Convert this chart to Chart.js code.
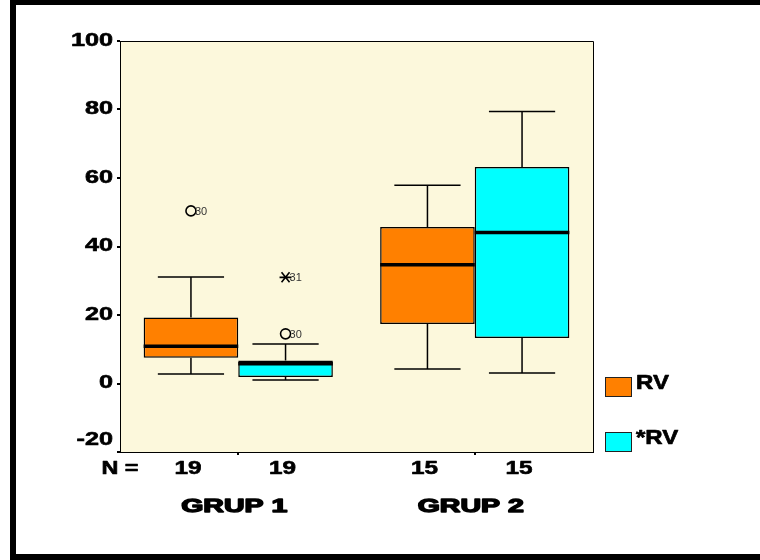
<!DOCTYPE html>
<html lang="en">
<head>
    <meta charset="UTF-8">
    <title>RV boxplot</title>
    <style>
        body { margin: 0; background: #fff; }
        canvas { display: block; }
    </style>
</head>
<body>
    <canvas id="myChart" width="760" height="560"></canvas>

    <script src="https://cdn.jsdelivr.net/npm/chart.js"></script>

    <script>
        // categories and series names
        const groups = ['GRUP 1', 'GRUP 2'];
        const seriesNames = ['RV', '*RV'];

        // case counts under each box
        const rvN = [19, 15];
        const rvStarN = [19, 15];

        // RV box statistics (per group)
        const rvMin = [2.8, 4.2];
        const rvQ1 = [7.5, 17.4];
        const rvMedian = [10.9, 34.7];
        const rvQ3 = [19.3, 45.7];
        const rvMax = [31.1, 57.9];
        const rvOutliers = [[50.4], []];
        const rvOutlierLabels = [['30'], []];
        const rvExtremes = [[], []];
        const rvExtremeLabels = [[], []];

        // *RV box statistics (per group)
        const rvStarMin = [1.0, 3.1];
        const rvStarQ1 = [1.9, 13.3];
        const rvStarMedian = [5.8, 44.1];
        const rvStarQ3 = [6.7, 63.2];
        const rvStarMax = [11.5, 79.4];
        const rvStarOutliers = [[14.5], []];
        const rvStarOutlierLabels = [['30'], []];
        const rvStarExtremes = [[31.0], []];
        const rvStarExtremeLabels = [['31'], []];

        // y axis
        const yMin = -20;
        const yMax = 100;
        const yStep = 20;

        const stats = [
            { min: rvMin, q1: rvQ1, med: rvMedian, q3: rvQ3, max: rvMax, n: rvN,
              out: rvOutliers, outLab: rvOutlierLabels, ext: rvExtremes, extLab: rvExtremeLabels },
            { min: rvStarMin, q1: rvStarQ1, med: rvStarMedian, q3: rvStarQ3, max: rvStarMax, n: rvStarN,
              out: rvStarOutliers, outLab: rvStarOutlierLabels, ext: rvStarExtremes, extLab: rvStarExtremeLabels }
        ];
        const colors = ['#FF8000', '#00FFFF'];

        function boxData(s) {
            return s.q1.map((q, i) => [q, s.q3[i]]);
        }

        // text drawn with a horizontal stretch like the original export
        function stretchText(ctx, text, x, y, font, sx, align, heavy) {
            ctx.save();
            ctx.font = font;
            ctx.fillStyle = '#000';
            ctx.strokeStyle = '#000';
            ctx.textAlign = align;
            ctx.textBaseline = 'middle';
            ctx.translate(x, y);
            ctx.scale(sx, 1);
            ctx.fillText(text, 0, 0);
            if (heavy) {
                ctx.lineWidth = heavy;
                ctx.lineJoin = 'round';
                ctx.strokeText(text, 0, 0);
            }
            ctx.restore();
        }

        const boldFont = size => 'bold ' + size + 'px "Liberation Sans", Arial, sans-serif';

        const boxPlugin = {
            id: 'boxPlugin',
            beforeDraw(chart) {
                const ctx = chart.ctx;
                const a = chart.chartArea;
                ctx.save();
                ctx.fillStyle = '#fff';
                ctx.fillRect(0, 0, chart.width, chart.height);
                // outer frame
                ctx.fillStyle = '#000';
                ctx.fillRect(10, 0, chart.width - 10, 5);
                ctx.fillRect(10, 0, 6, chart.height);
                ctx.fillRect(10, chart.height - 6, chart.width - 10, 6);
                // plot background
                ctx.fillStyle = '#FCF8DC';
                ctx.fillRect(a.left, a.top, a.right - a.left, a.bottom - a.top);
                ctx.restore();
            },
            afterDatasetsDraw(chart) {
                const ctx = chart.ctx;
                const y = chart.scales.y;
                const x = chart.scales.x;
                const a = chart.chartArea;
                ctx.save();
                ctx.strokeStyle = '#000';

                stats.forEach((s, d) => {
                    const meta = chart.getDatasetMeta(d);
                    meta.data.forEach((bar, i) => {
                        const cx = bar.x;
                        const half = bar.width / 2;
                        const cap = bar.width * 0.35;

                        // whiskers
                        ctx.lineWidth = 1.5;
                        ctx.beginPath();
                        ctx.moveTo(cx, y.getPixelForValue(s.q3[i]));
                        ctx.lineTo(cx, y.getPixelForValue(s.max[i]));
                        ctx.moveTo(cx - cap, y.getPixelForValue(s.max[i]));
                        ctx.lineTo(cx + cap, y.getPixelForValue(s.max[i]));
                        ctx.moveTo(cx, y.getPixelForValue(s.q1[i]));
                        ctx.lineTo(cx, y.getPixelForValue(s.min[i]));
                        ctx.moveTo(cx - cap, y.getPixelForValue(s.min[i]));
                        ctx.lineTo(cx + cap, y.getPixelForValue(s.min[i]));
                        ctx.stroke();

                        // median
                        ctx.lineWidth = 3.5;
                        ctx.beginPath();
                        ctx.moveTo(cx - half, y.getPixelForValue(s.med[i]));
                        ctx.lineTo(cx + half, y.getPixelForValue(s.med[i]));
                        ctx.stroke();

                        // outliers
                        ctx.lineWidth = 1.6;
                        s.out[i].forEach((v, k) => {
                            const py = y.getPixelForValue(v);
                            ctx.beginPath();
                            ctx.arc(cx, py, 5, 0, Math.PI * 2);
                            ctx.stroke();
                            ctx.font = '11px "Liberation Sans", Arial, sans-serif';
                            ctx.fillStyle = '#333';
                            ctx.textAlign = 'left';
                            ctx.textBaseline = 'middle';
                            ctx.fillText(s.outLab[i][k], cx + 4, py + 1);
                        });

                        // extremes
                        s.ext[i].forEach((v, k) => {
                            const py = y.getPixelForValue(v);
                            ctx.beginPath();
                            ctx.moveTo(cx - 6, py);
                            ctx.lineTo(cx + 6, py);
                            ctx.moveTo(cx - 4, py - 5);
                            ctx.lineTo(cx + 4, py + 5);
                            ctx.moveTo(cx - 4, py + 5);
                            ctx.lineTo(cx + 4, py - 5);
                            ctx.stroke();
                            ctx.font = '11px "Liberation Sans", Arial, sans-serif';
                            ctx.fillStyle = '#333';
                            ctx.textAlign = 'left';
                            ctx.textBaseline = 'middle';
                            ctx.fillText(s.extLab[i][k], cx + 4, py + 1);
                        });

                        // N under each box
                        stretchText(ctx, String(s.n[i]), cx - 3, 469, boldFont(18), 1.35, 'center', 0.6);
                    });
                });

                // top and right edges of the plot frame
                ctx.lineWidth = 1;
                ctx.strokeStyle = '#000';
                ctx.beginPath();
                ctx.moveTo(a.left, a.top + 0.5);
                ctx.lineTo(a.right + 0.5, a.top + 0.5);
                ctx.lineTo(a.right + 0.5, a.bottom);
                ctx.stroke();

                // y tick labels
                y.ticks.forEach(t => {
                    let py = y.getPixelForValue(t.value);
                    if (t.value === yMin) py -= 12;
                    stretchText(ctx, String(t.value), 113, py, boldFont(18), 1.4, 'right', 0.6);
                });

                stretchText(ctx, 'N =', 120, 469, boldFont(18), 1.3, 'center', 0.6);

                // group labels
                groups.forEach((g, i) => {
                    stretchText(ctx, g, x.getPixelForValue(i) - 4, 507, boldFont(19), 1.5, 'center', 1.4);
                });

                // legend
                const legendY = [387, 442];
                seriesNames.forEach((name, d) => {
                    ctx.fillStyle = colors[d];
                    ctx.fillRect(605, legendY[d] - 10, 27, 20);
                    ctx.lineWidth = 1;
                    ctx.strokeStyle = '#222';
                    ctx.strokeRect(605.5, legendY[d] - 9.5, 26, 19);
                    stretchText(ctx, name, 636, legendY[d] - 4, boldFont(20), 1.2, 'left', 0.7);
                });

                ctx.restore();
            }
        };

        const ctx = document.getElementById('myChart');

        let datasets = seriesNames.map((name, d) => ({
            label: name,
            data: boxData(stats[d]),
            backgroundColor: colors[d],
            borderColor: '#000',
            borderWidth: 1.5,
            borderSkipped: false,
            categoryPercentage: 0.8,
            barPercentage: 1.0
        }));

        let options = {
            responsive: false,
            animation: false,
            layout: {
                padding: { left: 0, top: 41, right: 167, bottom: 0 }
            },
            plugins: {
                legend: { display: false },
                tooltip: { enabled: false }
            },
            scales: {
                x: {
                    offset: true,
                    grid: {
                        offset: false,
                        drawOnChartArea: false,
                        drawTicks: true,
                        tickLength: 3,
                        lineWidth: 2,
                        color: '#000'
                    },
                    border: { display: true, color: '#000', width: 1 },
                    ticks: { display: false },
                    afterFit: scale => { scale.height = 108; }
                },
                y: {
                    min: yMin,
                    max: yMax,
                    grid: {
                        drawOnChartArea: false,
                        drawTicks: true,
                        tickLength: 3,
                        lineWidth: 2,
                        color: '#000'
                    },
                    border: { display: true, color: '#000', width: 1 },
                    ticks: { display: false, stepSize: yStep },
                    afterFit: scale => { scale.width = 120; }
                }
            }
        };

        let chart = new Chart(ctx, {
            type: 'bar',
            data: {
                labels: groups,
                datasets: datasets
            },
            options: options,
            plugins: [boxPlugin]
        });
    </script>
</body>
</html>
